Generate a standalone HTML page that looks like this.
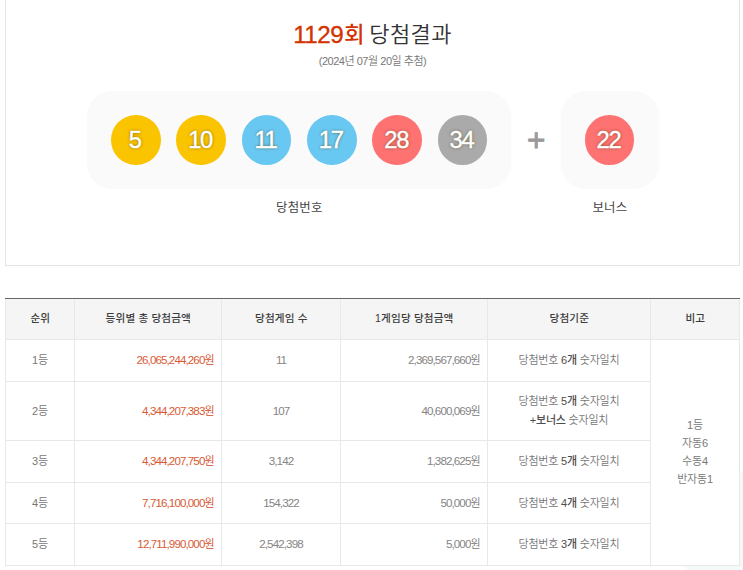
<!DOCTYPE html>
<html lang="ko">
<head>
<meta charset="utf-8">
<title>1129회 당첨결과</title>
<style>
*{margin:0;padding:0;box-sizing:border-box;}
html,body{width:743px;height:570px;overflow:hidden;background:#fff;}
body{font-family:"Liberation Sans","Noto Sans CJK KR",sans-serif;color:#333;position:relative;}
.win{position:absolute;left:5px;top:-1px;width:735px;height:267px;border:1px solid #e4e4e4;background:#fff;text-align:center;}
.win h4{position:absolute;left:0;right:0;top:16.3px;font-size:22px;font-weight:350;line-height:36px;color:#333;letter-spacing:0.4px;word-spacing:-2.6px;white-space:nowrap;}
.win h4 strong{color:#d43301;font-weight:500;letter-spacing:1px;}
.win h4 strong span{font-size:24.2px;letter-spacing:-0.5px;position:relative;top:1.2px;margin-right:1px;-webkit-text-stroke:0.35px #d43301;}
.win .desc{position:absolute;left:0;right:0;top:53px;font-size:11px;line-height:16px;color:#777;letter-spacing:-0.47px;font-weight:350;}
.box{position:absolute;top:91.3px;height:98.2px;background:#fafafa;border-radius:25px;}
.box.num{left:80.8px;width:424.7px;}
.box.bonus{left:554.5px;width:98px;}
.ball{position:absolute;top:24.2px;width:49.5px;height:49.5px;border-radius:50%;color:#fff;font-size:23.8px;line-height:49.5px;text-align:center;font-weight:500;letter-spacing:-1.3px;padding-right:2.2px;text-shadow:0 0 3px rgba(73,57,0,.8);-webkit-text-stroke:0.4px #fff;}
.b1{background:#fbc400;}
.b2{background:#69c8f2;}
.b3{background:#ff7272;}
.b4{background:#aaa;}
.plus{position:absolute;left:515.3px;top:119.8px;width:30px;height:40px;font-size:31.5px;line-height:40px;color:#999;font-weight:400;text-align:center;-webkit-text-stroke:0.8px #999;}
.lbl{position:absolute;top:199px;font-size:12.4px;line-height:18px;color:#444;font-weight:400;text-align:center;letter-spacing:0.25px;padding-left:0.6px;}
table{position:absolute;left:5px;top:298px;width:734px;border-collapse:collapse;table-layout:fixed;}
th{height:41px;background:#f5f5f5;border:1px solid #e8e8e8;border-top:1px solid #f5f5f5;font-weight:500;color:#3c3c3c;font-size:10.6px;letter-spacing:0.15px;padding-bottom:4px;padding-left:0.6px;}
td{border:1px solid #e8e8e8;color:#777;text-align:center;font-weight:350;line-height:20px;font-size:11px;letter-spacing:-0.2px;padding-bottom:0.4px;}
td.r{text-align:right;padding-right:7px;}
td.note{line-height:17.9px;padding-top:1.4px;}
td.two{line-height:19.3px;}
td i{font-style:normal;font-size:11.6px;letter-spacing:-0.9px;opacity:.9;}
td.r{letter-spacing:-0.6px;}
td.red{color:#d6491a;}
td strong{color:#4d4d4d;font-weight:500;}
.topline{position:absolute;left:5px;top:298px;width:735px;height:1px;background:#666;}
.deco{position:absolute;left:0;top:0;}
</style>
</head>
<body>
<div class="win">
  <h4><strong><span>1129</span>회</strong> 당첨결과</h4>
  <p class="desc">(2024년 07월 20일 추첨)</p>
  <div class="box num">
    <span class="ball b1" style="left:24.3px">5</span>
    <span class="ball b1" style="left:89.65px">10</span>
    <span class="ball b2" style="left:155px">11</span>
    <span class="ball b2" style="left:220.35px">17</span>
    <span class="ball b3" style="left:285.7px">28</span>
    <span class="ball b4" style="left:351.05px">34</span>
  </div>
  <div class="plus">+</div>
  <div class="box bonus">
    <span class="ball b3" style="left:24.4px">22</span>
  </div>
  <div class="lbl" style="left:80.5px;width:425px;">당첨번호</div>
  <div class="lbl" style="left:554.4px;width:98.4px;">보너스</div>
</div>
<svg class="deco" width="743" height="570" viewBox="0 0 743 570" aria-hidden="true"><polygon points="740,473 743,470 743,570 740,570" fill="#f4fafa"/><polygon points="684,566 740,566 740,570 688,570" fill="#f4fafa"/></svg>
<table>
  <colgroup><col style="width:69px"><col style="width:147px"><col style="width:119px"><col style="width:147px"><col style="width:163px"><col style="width:89px"></colgroup>
  <thead>
    <tr><th>순위</th><th>등위별 총 당첨금액</th><th>당첨게임 수</th><th>1게임당 당첨금액</th><th>당첨기준</th><th>비고</th></tr>
  </thead>
  <tbody>
    <tr style="height:42px"><td>1등</td><td class="r red"><i>26,065,244,260</i>원</td><td class="c"><i>11</i></td><td class="r"><i>2,369,567,660</i>원</td><td>당첨번호 <strong>6개</strong> 숫자일치</td><td rowspan="5" class="note">1등<br>자동6<br>수동4<br>반자동1</td></tr>
    <tr style="height:59px"><td>2등</td><td class="r red"><i>4,344,207,383</i>원</td><td class="c"><i>107</i></td><td class="r"><i>40,600,069</i>원</td><td class="two">당첨번호 <strong>5개</strong> 숫자일치<br><strong>+보너스</strong> 숫자일치</td></tr>
    <tr style="height:42px"><td>3등</td><td class="r red"><i>4,344,207,750</i>원</td><td class="c"><i>3,142</i></td><td class="r"><i>1,382,625</i>원</td><td>당첨번호 <strong>5개</strong> 숫자일치</td></tr>
    <tr style="height:41px"><td>4등</td><td class="r red"><i>7,716,100,000</i>원</td><td class="c"><i>154,322</i></td><td class="r"><i>50,000</i>원</td><td>당첨번호 <strong>4개</strong> 숫자일치</td></tr>
    <tr style="height:42px"><td>5등</td><td class="r red"><i>12,711,990,000</i>원</td><td class="c"><i>2,542,398</i></td><td class="r"><i>5,000</i>원</td><td>당첨번호 <strong>3개</strong> 숫자일치</td></tr>
  </tbody>
</table>
<div class="topline"></div>
</body>
</html>
